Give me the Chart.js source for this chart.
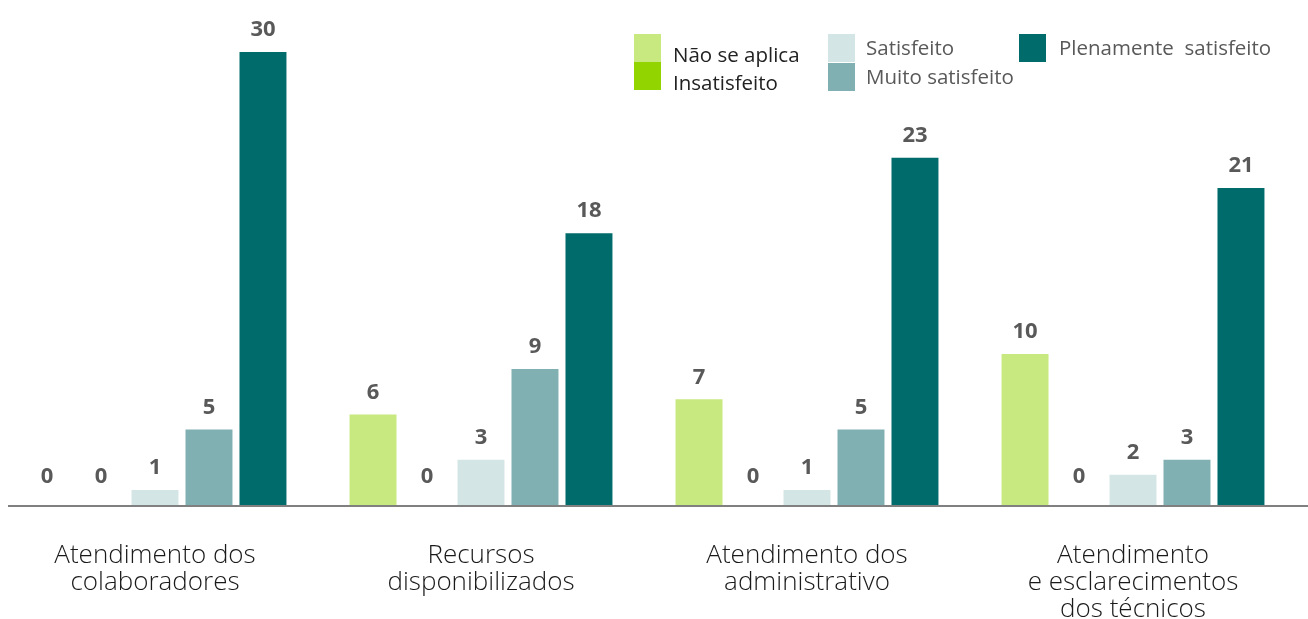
<!DOCTYPE html>
<html>
<head>
<meta charset="utf-8">
<script src="https://cdn.jsdelivr.net/npm/chart.js@4"></script>
<style>
  html, body { margin: 0; padding: 0; background: #fff; overflow: hidden; }
  #wrap { position: absolute; left: -8px; top: 0; width: 1316px; height: 619px; }
</style>
</head>
<body>
<div id="wrap"><canvas id="myChart"></canvas></div>
<script>
// categories
const categorias = [
  ["Atendimento dos", "colaboradores"],
  ["Recursos", "disponibilizados"],
  ["Atendimento dos", "administrativo"],
  ["Atendimento", "e esclarecimentos", "dos técnicos"]
];

// series
const naoSeAplica   = [0, 6, 7, 10];
const insatisfeito  = [0, 0, 0, 0];
const satisfeito    = [1, 3, 1, 2];
const muitoSatisf   = [5, 9, 5, 3];
const plenamente    = [30, 18, 23, 21];

const nomes  = ["Não se aplica", "Insatisfeito", "Satisfeito", "Muito satisfeito", "Plenamente  satisfeito"];
const cores  = ["#c8e97f", "#92d400", "#d4e5e5", "#80b0b2", "#006b6b"];

const FONT = "'Open Sans', 'DejaVu Sans', sans-serif";

// value labels above bars
const valueLabels = {
  id: 'valueLabels',
  afterDatasetsDraw(chart) {
    const ctx = chart.ctx;
    ctx.save();
    ctx.font = "bold 22px " + FONT;
    ctx.fillStyle = "#595959";
    ctx.textAlign = "center";
    ctx.textBaseline = "bottom";
    chart.data.datasets.forEach((ds, i) => {
      chart.getDatasetMeta(i).data.forEach((bar, j) => {
        const v = ds.data[j];
        const off = v === 0 ? 17 : 11;
        ctx.fillText(String(v), bar.x, bar.y - off);
      });
    });
    ctx.restore();
  }
};

// base line + legend
const extras = {
  id: 'extras',
  afterDraw(chart) {
    const ctx = chart.ctx;
    const yb = chart.scales.y.getPixelForValue(0);
    ctx.save();
    ctx.strokeStyle = "#808080";
    ctx.lineWidth = 2;
    ctx.beginPath();
    ctx.moveTo(16, yb + 1);
    ctx.lineTo(chart.width, yb + 1);
    ctx.stroke();

    // legend (page x = canvas x - 8)
    const pos = [
      {sx: 642, sy: 34, tx: 681, ty: 56, col: "#222"},
      {sx: 642, sy: 62, tx: 681, ty: 84, col: "#222"},
      {sx: 836, sy: 34, tx: 874, ty: 49, col: "#595959"},
      {sx: 836, sy: 63, tx: 874, ty: 78, col: "#595959"},
      {sx: 1027, sy: 34, tx: 1067, ty: 49, col: "#595959"}
    ];
    ctx.font = "20.5px " + FONT;
    ctx.textAlign = "left";
    ctx.textBaseline = "middle";
    chart.data.datasets.forEach((ds, i) => {
      const p = pos[i];
      ctx.fillStyle = ds.backgroundColor;
      ctx.fillRect(p.sx, p.sy, 27, 28);
      ctx.fillStyle = p.col;
      ctx.fillText(ds.label, p.tx, p.ty);
    });
    ctx.restore();
  }
};

const series = [naoSeAplica, insatisfeito, satisfeito, muitoSatisf, plenamente];

new Chart("myChart", {
  type: "bar",
  data: {
    labels: categorias,
    datasets: series.map((d, i) => ({
      label: nomes[i],
      data: d,
      backgroundColor: cores[i],
      borderWidth: 0,
      categoryPercentage: 0.828,
      barPercentage: 0.87
    }))
  },
  options: {
    responsive: true,
    maintainAspectRatio: false,
    animation: false,
    layout: { padding: { top: 52, left: 0, right: 12, bottom: 0 } },
    plugins: {
      legend: { display: false },
      tooltip: { enabled: false }
    },
    scales: {
      x: {
        grid: { display: false, drawTicks: false },
        border: { display: false },
        ticks: {
          color: "#1a1a1a",
          font: { family: FONT, size: 26, weight: 300, lineHeight: 1.04 },
          padding: 37,
          maxRotation: 0,
          autoSkip: false
        },
        afterFit(scale) { scale.height = 114; }
      },
      y: {
        display: false,
        min: 0,
        max: 30
      }
    }
  },
  plugins: [valueLabels, extras]
});
</script>
</body>
</html>
